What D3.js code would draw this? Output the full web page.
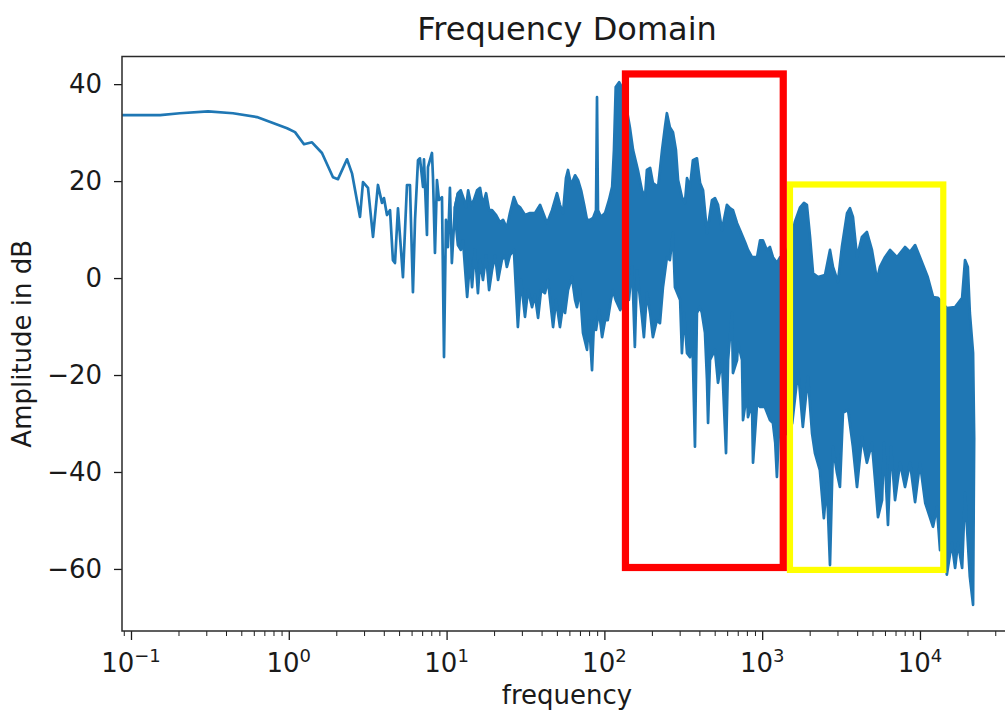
<!DOCTYPE html>
<html>
<head>
<meta charset="utf-8">
<script src="https://cdn.jsdelivr.net/npm/d3@7"></script>
<style>
html, body { margin: 0; padding: 0; background: #fff; overflow: hidden; }
svg text { font-family: "DejaVu Sans", sans-serif; fill: #1a1a1a; }
</style>
</head>
<body>
<svg id="chart" width="1005" height="711"></svg>
<script>
// low part of the spectrum, drawn as a plain line (Hz, dB)
const lowFreq = [0.088, 0.153, 0.204, 0.308, 0.443, 0.628, 0.794, 0.975, 1.095, 1.248,
    1.403, 1.623, 1.906, 2.05, 2.338, 2.515, 2.826, 2.953, 3.177, 3.418,
    3.674, 3.896, 4.01, 4.19, 4.38, 4.57, 4.71, 4.92, 5.29, 5.61,
    5.86, 6.12, 6.31, 6.59, 6.78, 7.09, 7.19, 7.51, 7.62, 8.08,
    8.20, 8.44, 8.69, 8.95, 9.35, 9.63, 9.91, 10.2, 10.5, 10.8, 11.3, 11.8];
const lowDb = [33.6, 33.6, 34.0, 34.4, 34.0, 33.2, 32.0, 30.9, 30.1, 27.6,
    28.0, 25.8, 20.8, 20.4, 24.5, 21.6, 12.6, 19.8, 18.6, 8.5,
    19.2, 15.5, 16.5, 13.0, 14.0, 3.7, 3.1, 14.4, 0.2, 19.2,
    19.2, -2.9, 12.0, 24.3, 24.7, 18.8, 24.5, 8.9, 22.9, 25.8,
    20.8, 5.2, 20.2, 16.1, 16.7, -16.3, 12.0, 6.4, 18.6, 3.1, 14.6, 17.5];

// dense part: upper and lower edge of the band (Hz, dB)
const bandTopFreq = [11.3, 11.8, 12.3, 12.9, 13.3, 13.7, 14.3, 14.9, 15.6, 16.3,
    17.0, 17.8, 18.6, 19.4, 20.6, 21.8, 22.8, 24.1, 25.2, 26.7,
    27.9, 29.2, 31.4, 33.8, 36.3, 39.1, 41.4, 43.3, 46.6, 50.1,
    52.3, 54.7, 57.1, 58.8, 61.5, 65.2, 68.1, 71.2, 74.4, 77.6,
    81.1, 84.8, 88.5, 89.8, 91.1, 95.2, 101, 107, 112, 115,
    118, 124, 129, 137, 145, 152, 163, 173, 181, 186,
    195, 203, 219, 232, 242, 249, 260, 272, 284, 293,
    310, 324, 334, 349, 364, 386, 404, 422, 447, 481,
    502, 525, 556, 598, 625, 653, 693, 723, 779, 813,
    862, 928, 970, 1010, 1070, 1120, 1170, 1240, 1300, 1380,
    1460, 1550, 1610, 1740, 1840, 1920, 2010, 2100, 2260, 2500,
    2690, 2810, 3020, 3200, 3450, 3600, 3760, 3990, 4290, 4610,
    4960, 5340, 5580, 6000, 6460, 7150, 8040, 8650, 9310, 10000,
    11200, 12100, 13000, 14800, 16700, 18500, 19300, 20100, 20700, 21700, 22050];
const bandTopDb = [14.6, 17.5, 18.1, 16.1, 14.6, 18.1, 15.1, 16.1, 18.1, 18.6,
    15.1, 17.5, 14.0, 14.0, 13.0, 11.5, 12.0, 10.3, 13.4, 16.7,
    15.1, 14.6, 13.0, 13.4, 13.4, 15.1, 13.0, 11.3, 14.0, 17.5,
    15.1, 13.4, 20.6, 22.3, 19.2, 21.2, 20.2, 18.1, 15.1, 12.0,
    12.0, 12.4, 14.0, 37.3, 14.0, 12.6, 13.4, 16.1, 18.8, 26.4,
    39.4, 40.4, 39.4, 35.7, 31.1, 26.4, 22.3, 18.1, 16.7, 22.3,
    22.7, 19.6, 18.8, 26.4, 31.1, 34.0, 31.1, 30.1, 26.4, 20.2,
    16.7, 15.5, 20.6, 18.8, 24.3, 24.7, 19.6, 18.1, 9.3, 16.1,
    16.5, 15.1, 9.9, 15.1, 14.4, 14.0, 11.3, 9.9, 7.4, 5.8,
    4.3, 4.3, 7.8, 7.8, 5.8, 6.4, 4.3, 3.1, 4.3, 3.3,
    6.2, 8.9, 11.5, 14.6, 15.5, 15.1, 8.5, 1.0, 0.2, 0.6,
    5.8, 2.3, -0.8, 6.4, 13.4, 14.4, 12.6, 4.3, 8.5, 9.5,
    5.8, -0.4, 2.3, 4.3, 5.8, 4.3, 6.4, 5.4, 6.8, 4.3,
    0.2, -3.9, -4.1, -6.2, -6.0, -4.1, 3.7, 2.3, -7.2, -15.5, -33.0];
const bandBotFreq = [11.3, 11.8, 12.3, 12.7, 13.5, 14.1, 14.5, 15.1, 15.8, 16.3,
    17.0, 17.8, 18.6, 19.4, 20.3, 21.2, 22.4, 23.4, 24.1, 25.2,
    26.7, 28.3, 29.6, 31.4, 32.8, 34.8, 36.3, 38.0, 39.7, 42.0,
    43.9, 47.3, 49.4, 52.3, 54.7, 56.3, 58.8, 62.3, 65.2, 67.0,
    70.1, 73.2, 77.6, 79.9, 83.5, 86.0, 88.5, 92.5, 96.7, 101,
    105, 110, 113, 118, 126, 135, 143, 150, 156, 161,
    173, 178, 186, 195, 203, 215, 225, 235, 249, 260,
    272, 280, 302, 310, 320, 334, 349, 359, 375, 386,
    404, 415, 434, 447, 454, 467, 502, 525, 556, 590,
    608, 643, 653, 693, 703, 745, 756, 801, 813, 862,
    875, 928, 970, 1040, 1120, 1170, 1210, 1240, 1280, 1360,
    1460, 1550, 1690, 1810, 1950, 2070, 2160, 2320, 2460, 2570,
    2690, 2810, 2980, 3110, 3250, 3500, 3760, 3990, 4290, 4610,
    4960, 5190, 5420, 5750, 5920, 6270, 6550, 6950, 7480, 8040,
    8650, 9310, 10000, 10800, 12100, 12800, 13400, 14000, 14800, 15900,
    16700, 17400, 18500, 19300, 20700, 21700, 22050];
const bandBotDb = [13.0, 6.8, 5.8, 7.8, -3.9, 3.7, -1.9, 5.8, -3.1, 3.7,
    -0.4, 4.7, -2.5, 1.6, 4.7, -0.4, 3.7, 4.7, 2.3, 4.7,
    5.8, -10.1, -0.4, -8.0, -2.5, -6.0, -3.5, -8.2, -2.5, -3.1,
    -0.4, -10.1, -4.5, -10.1, -5.6, -7.2, -2.5, 0.2, -4.5, -6.0,
    -2.5, -11.3, -14.8, -8.7, -19.0, -8.7, -10.7, -6.6, -12.2, -8.7,
    -8.7, -4.5, -2.5, -4.5, -6.6, -4.5, -4.5, 2.3, -14.2, 1.6,
    -8.0, -12.2, -3.1, -7.2, -12.2, -8.7, -9.3, -1.9, 4.3, 3.7,
    9.3, -1.9, -4.5, -15.5, -7.2, -15.5, -16.3, -8.7, -34.8, -7.2,
    -6.0, -7.2, -11.3, -21.0, -29.9, -16.9, -14.8, -21.6, -16.9, -36.1,
    -16.9, -7.2, -19.6, -16.9, -13.4, -16.9, -29.3, -23.7, -28.7, -25.8,
    -38.1, -25.8, -26.6, -26.6, -29.3, -29.9, -34.0, -41.0, -30.7, -31.3,
    -32.4, -29.9, -19.0, -30.7, -20.4, -32.0, -36.1, -39.6, -49.5, -42.3,
    -59.2, -34.8, -40.2, -43.1, -27.8, -27.2, -34.8, -43.1, -32.8, -38.1,
    -34.0, -41.6, -49.3, -45.8, -34.0, -50.9, -34.8, -45.8, -38.1, -43.1,
    -38.1, -46.2, -38.1, -46.4, -51.3, -47.2, -56.1, -45.8, -61.2, -54.6,
    -59.8, -54.6, -59.8, -44.3, -61.6, -67.4, -33.0];

// highlight boxes: [f0, f1, dbLow, dbHigh]
const redBox = [136, 1360, -59.7, 42.1];
const yellowBox = [1500, 14050, -60.2, 19.3];

const yTicks = [-60, -40, -20, 0, 20, 40];
const xTicks = [0.1, 1, 10, 100, 1000, 10000];
const xTickExp = ["\u22121", "0", "1", "2", "3", "4"];
const xMinor = [0.09, 0.2, 0.3, 0.4, 0.5, 0.6, 0.7, 0.8, 0.9,
    2, 3, 4, 5, 6, 7, 8, 9, 20, 30, 40, 50, 60, 70, 80, 90,
    200, 300, 400, 500, 600, 700, 800, 900, 2000, 3000, 4000, 5000, 6000, 7000, 8000, 9000,
    20000, 30000];

const BLUE = "#1f77b4";
const INK = "#1a1a1a";
const plot = {left: 122, right: 1012, top: 56.5, bottom: 631};

const svg = d3.select("#chart");
svg.append("rect").attr("width", 1005).attr("height", 711).attr("fill", "#fff");

const x = d3.scaleLog().domain([0.0877, 38300]).range([plot.left, plot.right]);
const y = d3.scaleLinear().domain([-72.8, 45.7]).range([plot.bottom, plot.top]);

const line = d3.line().x(d => x(d[0])).y(d => y(d[1]));

// spectrum
svg.append("path")
    .attr("d", line(d3.zip(lowFreq, lowDb)))
    .attr("fill", "none")
    .attr("stroke", BLUE)
    .attr("stroke-width", 2.7)
    .attr("stroke-linejoin", "round");

let band = d3.zip(bandTopFreq, bandTopDb).concat(d3.zip(bandBotFreq, bandBotDb).reverse());
svg.append("path")
    .attr("d", line(band) + "Z")
    .attr("fill", BLUE)
    .attr("stroke", BLUE)
    .attr("stroke-width", 2.7)
    .attr("stroke-linejoin", "round");

// axes
let yAxis = svg.append("g")
    .attr("transform", `translate(${plot.left},0)`)
    .call(d3.axisLeft(y).tickValues(yTicks).tickSize(8).tickSizeOuter(0).tickPadding(12)
        .tickFormat(d => d < 0 ? "\u2212" + Math.abs(d) : d));
yAxis.select(".domain").remove();
yAxis.selectAll("line").attr("stroke", INK).attr("stroke-width", 1.3);
yAxis.selectAll("text").attr("font-size", 26).attr("font-family", "DejaVu Sans").attr("fill", INK);

let xAxis = svg.append("g")
    .attr("transform", `translate(0,${plot.bottom})`)
    .call(d3.axisBottom(x).tickValues(xTicks).tickSize(9).tickSizeOuter(0).tickFormat(""));
xAxis.select(".domain").remove();
xAxis.selectAll("line").attr("stroke", INK).attr("stroke-width", 1.3);

let xMinorAxis = svg.append("g")
    .attr("transform", `translate(0,${plot.bottom})`)
    .call(d3.axisBottom(x).tickValues(xMinor).tickSize(5).tickSizeOuter(0).tickFormat(""));
xMinorAxis.select(".domain").remove();
xMinorAxis.selectAll("line").attr("stroke", INK).attr("stroke-width", 1);

let xLabels = svg.append("g").selectAll("text")
    .data(d3.zip(xTicks, xTickExp))
    .join("text")
    .attr("x", d => x(d[0]))
    .attr("y", 672)
    .attr("text-anchor", "middle")
    .attr("font-size", 26);
xLabels.append("tspan").text("10");
xLabels.append("tspan").attr("dy", -10).attr("font-size", 18).text(d => d[1]);

// frame
svg.append("rect")
    .attr("x", plot.left).attr("y", plot.top)
    .attr("width", plot.right - plot.left).attr("height", plot.bottom - plot.top)
    .attr("fill", "none").attr("stroke", "#2a2a2a").attr("stroke-width", 1.5);

// titles
svg.append("text").text("Frequency Domain")
    .attr("x", (plot.left + plot.right) / 2).attr("y", 40)
    .attr("text-anchor", "middle").attr("font-size", 32);
svg.append("text").text("frequency")
    .attr("x", (plot.left + plot.right) / 2).attr("y", 704)
    .attr("text-anchor", "middle").attr("font-size", 26);
svg.append("text").text("Amplitude in dB")
    .attr("transform", `translate(31,${(plot.top + plot.bottom) / 2}) rotate(-90)`)
    .attr("text-anchor", "middle").attr("font-size", 26);

// highlight boxes
function box(b, color, w){
    svg.append("rect")
        .attr("x", x(b[0])).attr("y", y(b[3]))
        .attr("width", x(b[1]) - x(b[0])).attr("height", y(b[2]) - y(b[3]))
        .attr("fill", "none").attr("stroke", color).attr("stroke-width", w);
}
box(yellowBox, "#ffff00", 6.2);
box(redBox, "#ff0000", 7.2);
</script>
</body>
</html>
